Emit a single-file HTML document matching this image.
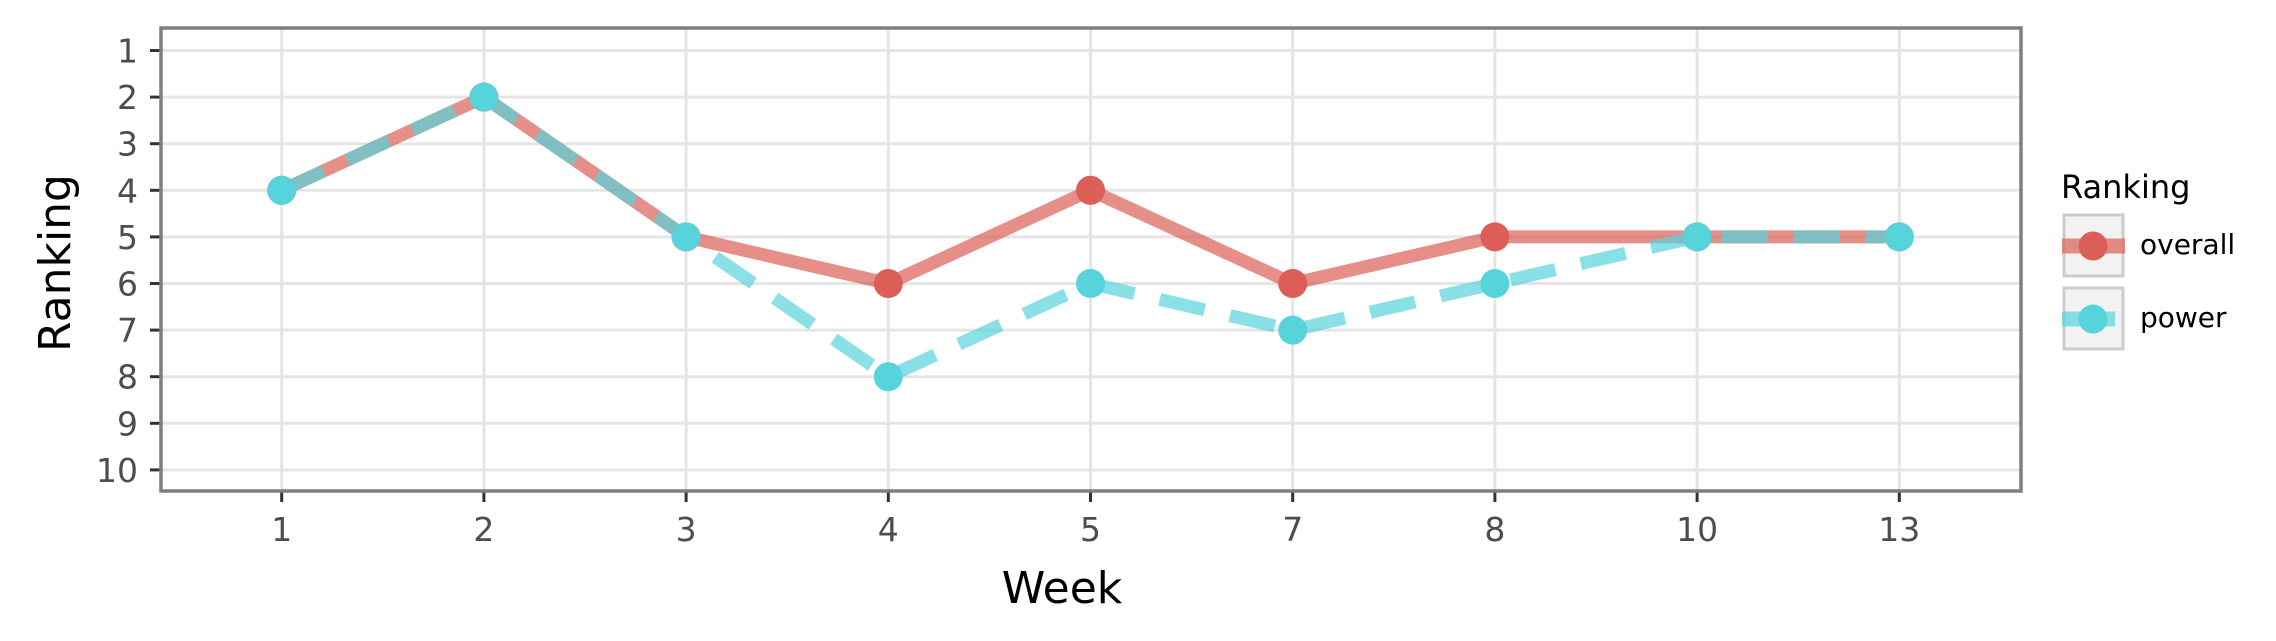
<!DOCTYPE html>
<html><head><meta charset="utf-8"><style>
html,body{margin:0;padding:0;background:#fff;}
svg{display:block;font-family:"DejaVu Sans","Liberation Sans",sans-serif;}
</style></head><body>
<svg id="chart" width="2276" height="641" xmlns="http://www.w3.org/2000/svg"></svg>
<script>
const categories = ["1","2","3","4","5","7","8","10","13"];
const overallValues = [4,2,5,6,4,6,5,5,5];
const powerValues = [4,2,5,8,6,7,6,5,5];
const yTicks = [1,2,3,4,5,6,7,8,9,10];

const NS = "http://www.w3.org/2000/svg";
const svg = document.getElementById("chart");
const P = {l:161, r:2021, t:28, b:491};
const xFirst = 281.7, xStep = 202.2;
function xs(i){ return xFirst + i*xStep; }
function ys(v){ return 50.5 + (v-1)*46.6; }
function mk(tag, attrs, parent){
  const e = document.createElementNS(NS, tag);
  for (const k in attrs) e.setAttribute(k, attrs[k]);
  (parent||svg).appendChild(e);
  return e;
}
yTicks.forEach(v=>{
  const g = mk("line",{x1:P.l,x2:P.r,y1:ys(v),y2:ys(v),stroke:"#e5e5e5","stroke-width":3});
  
  
  const t = mk("line",{x1:150,x2:161,y1:ys(v),y2:ys(v),stroke:"#333","stroke-width":3});
  
  
  const lb = mk("text",{x:138,y:ys(v)+12,"text-anchor":"end","font-size":33,fill:"#4d4d4d"});
  lb.textContent = v;
  
  
});
categories.forEach((c,i)=>{
  const g = mk("line",{x1:xs(i),x2:xs(i),y1:P.t,y2:P.b,stroke:"#e5e5e5","stroke-width":3});
  
  
  const t = mk("line",{x1:xs(i),x2:xs(i),y1:P.b,y2:P.b+11,stroke:"#333","stroke-width":3});
  
  
  const lb = mk("text",{x:xs(i),y:541,"text-anchor":"middle","font-size":33,fill:"#4d4d4d"});
  lb.textContent = c;
  
  
});
function pts(vals){ return vals.map((v,i)=>xs(i)+","+ys(v)).join(" "); }
const lo = mk("polyline",{points:pts(overallValues),fill:"none",stroke:"#db5f57","stroke-opacity":0.7,"stroke-width":13,"stroke-linejoin":"round"});


const lp = mk("polyline",{points:pts(powerValues),fill:"none",stroke:"#57d3db","stroke-opacity":0.7,"stroke-width":13,"stroke-dasharray":"46 26"});


overallValues.forEach((v,i)=>{
  const c = mk("circle",{cx:xs(i),cy:ys(v),r:14.5,fill:"#db5f57"});
  
  
});
powerValues.forEach((v,i)=>{
  const c = mk("circle",{cx:xs(i),cy:ys(v),r:14.5,fill:"#57d3db"});
  
  
});
const br = mk("rect",{x:P.l,y:P.t,width:P.r-P.l,height:P.b-P.t,fill:"none",stroke:"#7f7f7f","stroke-width":3.5});


const xt = mk("text",{x:1062,y:603,"text-anchor":"middle","font-size":44,fill:"#000"});
xt.textContent = "Week";


const yt = mk("text",{x:0,y:0,"text-anchor":"middle","font-size":44,fill:"#000",transform:"translate(70,263) rotate(-90)"});
yt.textContent = "Ranking";


const lt = mk("text",{x:2061,y:198,"font-size":32,fill:"#000"});
lt.textContent = "Ranking";


const legend = [["overall","#db5f57",false,215],["power","#57d3db",true,288]];
legend.forEach(([name,col,dash,y])=>{
  const g = mk("g",{});
  
  
  mk("rect",{x:2064,y:y,width:59,height:61,fill:"#f2f2f2",stroke:"#ccc","stroke-width":3},g);
  mk("line",{x1:2062,x2:dash?2115:2125,y1:y+31,y2:y+31,stroke:col,"stroke-opacity":0.7,"stroke-width":15},g);
  mk("circle",{cx:2093,cy:y+31,r:14.5,fill:col},g);
  const tx = mk("text",{x:2140,y:y+39,"font-size":28,fill:"#000"},g);
  tx.textContent = name;
});
</script>
</body></html>
